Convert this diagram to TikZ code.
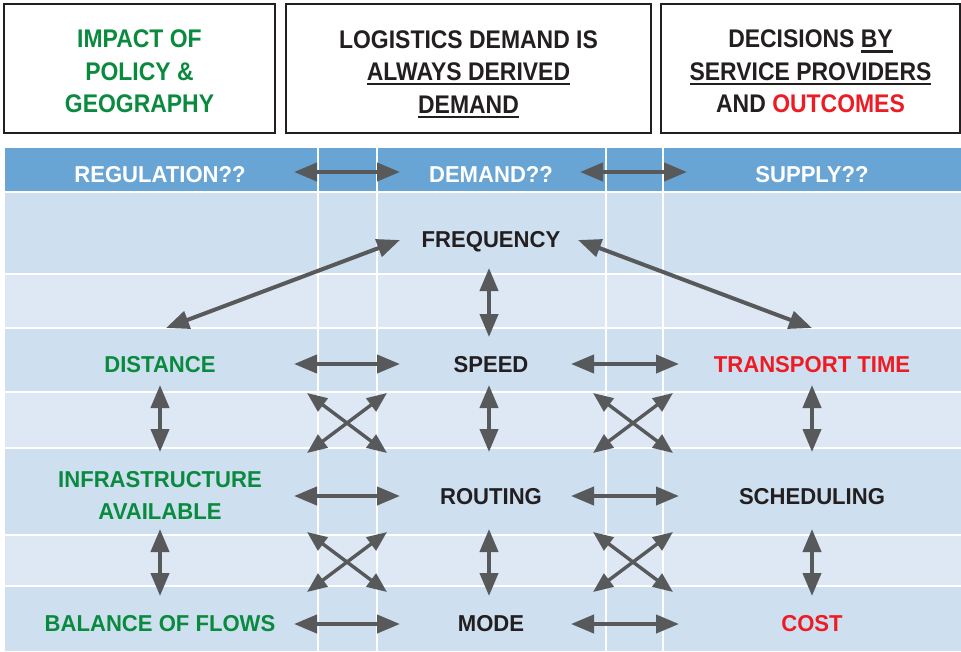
\documentclass[tikz,border=0pt]{standalone}
\usepackage{fontspec}
\usetikzlibrary{arrows.meta}
\newfontfamily\topfont[FakeStretch=0.9]{Liberation Sans Bold}
\newfontfamily\cellfont[FakeStretch=0.96]{Liberation Sans Bold}
\definecolor{inkdark}{HTML}{231F20}
\definecolor{geogreen}{HTML}{0A8A3E}
\definecolor{outred}{HTML}{ED1C24}
\definecolor{headblue}{HTML}{68A5D4}
\definecolor{rowdark}{HTML}{CEDFEF}
\definecolor{rowlight}{HTML}{DDE8F4}
\definecolor{arrowgray}{HTML}{58595B}
% underline with a fixed rule that adds no depth to the line
\newcommand\ulrule[1]{\setbox0\hbox{#1}\rlap{\smash{\rule[-4.6pt]{\wd0}{2.2pt}}}\box0}
\tikzset{
  topbox/.style={draw=inkdark, line width=1.4pt, fill=white, inner sep=0pt},
  toptext/.style={font=\topfont\fontsize{25.5}{32.5}\selectfont, align=center, inner sep=0pt, text=inkdark},
  celltext/.style={font=\cellfont\fontsize{23}{32}\selectfont, inner sep=0pt, anchor=base, text=inkdark},
  multitext/.style={font=\cellfont\fontsize{23}{32}\selectfont, inner sep=0pt, align=center},
  headtext/.style={celltext, text=white},
  dbl/.style={{Triangle[length=23pt,width=18pt]}-{Triangle[length=23pt,width=18pt]}, line width=4pt, draw=arrowgray},
  crossarrow/.style={{Triangle[length=20pt,width=16pt]}-{Triangle[length=20pt,width=16pt]}, line width=3.4pt, draw=arrowgray},
  gridline/.style={draw=white, line width=1.5pt}
}
\begin{document}
\begin{tikzpicture}[x=1pt,y=-1pt]
\useasboundingbox (0,0) rectangle (961,651);

% ---------- three heading boxes ----------
\node[topbox, minimum width=271pt, minimum height=129pt] (box1) at (139.5,68.5) {};
\node[topbox, minimum width=365pt, minimum height=129pt] (box2) at (468.5,68.5) {};
\node[topbox, minimum width=299pt, minimum height=129pt] (box3) at (810.5,68.5) {};
\node[toptext, text=geogreen] (t1) at ([yshift=-3.2pt]box1.center) {IMPACT OF\\POLICY \&\\GEOGRAPHY};
\node[toptext] (t2) at ([yshift=-3.2pt]box2.center) {LOGISTICS DEMAND IS\\\ulrule{ALWAYS DERIVED}\\\ulrule{DEMAND}};
\node[toptext] (t3) at ([yshift=-3.2pt]box3.center) {DECISIONS \ulrule{BY}\\\ulrule{SERVICE PROVIDERS}\\AND \textcolor{outred}{OUTCOMES}};

% ---------- table bands ----------
\fill[headblue] (5,148) rectangle (961,192);
\fill[rowdark]  (5,192) rectangle (961,274);
\fill[rowlight] (5,274) rectangle (961,328);
\fill[rowdark]  (5,328) rectangle (961,392);
\fill[rowlight] (5,392) rectangle (961,448);
\fill[rowdark]  (5,448) rectangle (961,535);
\fill[rowlight] (5,535) rectangle (961,586);
\fill[rowdark]  (5,586) rectangle (961,651);
\foreach \yy in {192,274,328,392,448,535,586}
  \draw[gridline] (5,\yy) -- (961,\yy);
\foreach \xx in {318,377,606,663}
  \draw[gridline] (\xx,148) -- (\xx,651);

% ---------- header labels ----------
\node[headtext] (reg) at (160,182) {REGULATION??};
\node[headtext] (dem) at (491,182) {DEMAND??};
\node[headtext] (sup) at (812,182) {SUPPLY??};

% ---------- cell labels ----------
\node[celltext] (freq) at (491,247) {FREQUENCY};
\node[celltext, text=geogreen] (dist) at (160,372.5) {DISTANCE};
\node[celltext] (speed) at (491,372.5) {SPEED};
\node[celltext, text=outred] (ttime) at (812,372.5) {TRANSPORT TIME};
\node[multitext, text=geogreen] (infra) at (160,495) {INFRASTRUCTURE\\AVAILABLE};
\node[celltext] (rout) at (491,504) {ROUTING};
\node[celltext] (sched) at (812,504) {SCHEDULING};
\node[celltext, text=geogreen] (bal) at (160,631) {BALANCE OF FLOWS};
\node[celltext] (mode) at (491,631) {MODE};
\node[celltext, text=outred] (cost) at (812,631) {COST};

% ---------- arrow end points ----------
\coordinate (hA1) at (294,172);  \coordinate (hA2) at (400,172);
\coordinate (hB1) at (580,172);  \coordinate (hB2) at (687,172);
\coordinate (fL) at (400,240);   \coordinate (dT) at (166,328);
\coordinate (fR) at (578,240);   \coordinate (tT) at (812,328);
\coordinate (fD) at (489,268);   \coordinate (sU) at (489,337);

% ---------- header arrows ----------
\draw[dbl] (hA1) -- (hA2);
\draw[dbl] (hB1) -- (hB2);

% ---------- frequency links ----------
\draw[dbl] (fL) -- (dT);
\draw[dbl] (fR) -- (tT);
\draw[dbl] (fD) -- (sU);

% ---------- horizontal links ----------
\foreach \yy/\nm in {364/a,496/b,624/c}{
  \coordinate (L1\nm) at (294,\yy); \coordinate (L2\nm) at (400,\yy);
  \coordinate (R1\nm) at (571,\yy); \coordinate (R2\nm) at (679,\yy);
  \draw[dbl] (L1\nm) -- (L2\nm);
  \draw[dbl] (R1\nm) -- (R2\nm);
}

% ---------- vertical links ----------
\foreach \yt/\yb/\nm in {385/452/a,529/596/b}{
  \foreach \xx/\cn in {160/l,489/m,812/r}{
    \coordinate (V1\nm\cn) at (\xx,\yt); \coordinate (V2\nm\cn) at (\xx,\yb);
    \draw[dbl] (V1\nm\cn) -- (V2\nm\cn);
  }
}

% ---------- crossing links ----------
\foreach \yt/\yb/\nm in {393/453/a,532/592/b}{
  \foreach \xl/\xr/\cn in {307/387/l,593/673/r}{
    \coordinate (X1\nm\cn) at (\xl,\yt); \coordinate (X2\nm\cn) at (\xr,\yb);
    \coordinate (X3\nm\cn) at (\xr,\yt); \coordinate (X4\nm\cn) at (\xl,\yb);
    \draw[crossarrow] (X1\nm\cn) -- (X2\nm\cn);
    \draw[crossarrow] (X3\nm\cn) -- (X4\nm\cn);
  }
}
\end{tikzpicture}
\end{document}
